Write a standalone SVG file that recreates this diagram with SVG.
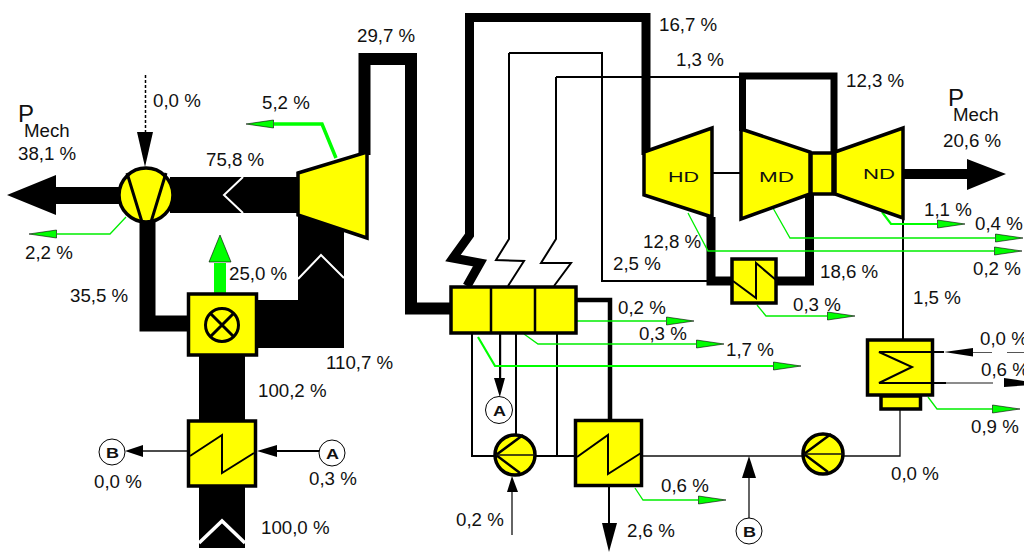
<svg xmlns="http://www.w3.org/2000/svg" width="1024" height="552" viewBox="0 0 1024 552">
<style>
text{font-family:"Liberation Sans",Arial,sans-serif;font-size:18.7px;fill:#111}
.p{font-size:24px}
.eq{font-size:15px;font-weight:normal}
.ab{font-size:15px;font-weight:bold}
.n{fill:#ffff00;stroke:#000;stroke-width:3.5}
.pipe{fill:none;stroke:#000;stroke-linejoin:miter;stroke-linecap:butt}
.w{fill:none;stroke:#000;stroke-width:2}
.t{fill:none;stroke:#111;stroke-width:1.3}
.g{fill:none;stroke:#00ee00;stroke-width:1.3;marker-end:url(#ga)}
.gt{fill:none;stroke:#00ff00;stroke-width:2.2;marker-end:url(#ga)}
.chev{fill:none;stroke:#fff;stroke-width:2;stroke-linecap:butt}
.c{fill:#fff;stroke:#000;stroke-width:1}
.in{fill:none;stroke:#000;stroke-width:2}
.b{fill:#000}
</style>
<defs>
<marker id="ga" markerUnits="userSpaceOnUse" markerWidth="30" markerHeight="10" refX="0" refY="5" orient="auto">
<path d="M0.5 1L0.5 9L28 5Z" fill="#00ff00" stroke="#000" stroke-width="0.6"/>
</marker>
</defs>
<g id="connectors">
<path class="b" d="M298 210H344V348H256V300H298Z"/>
<path class="b" d="M170 177H298V213H170Z"/>
<path class="b" d="M199 350H245V420H199Z"/>
<path class="b" d="M199 480H245V548H199Z"/>
<path class="chev" d="M243 177L224 195L243 213"/>
<path class="chev" d="M298 279L321 255L344 278"/>
<path d="M199 543L222 521L245 543" fill="none" stroke="#fff" stroke-width="3.5"/>
<path class="b" d="M7 195L56 175V187H120V204H56V215Z"/>
<path class="pipe" stroke-width="16" d="M147.500 222V323.500H190"/>
<path class="pipe" stroke-width="12" d="M364.500 155V59H411V308.500H452"/>
<path class="pipe" stroke-width="9" d="M646 155V17.500H469.500V235L453 258L480 263L467 286"/>
<path class="w" d="M509 53V239L496 260L524 261L508 286"/>
<path class="w" d="M509 53H602V281H710"/>
<path class="w" d="M556 77V239L541 263L571 263L554 286"/>
<path class="w" d="M556 77H742"/>
<path class="pipe" stroke-width="7" d="M742.500 131V76H834V154"/>
<path class="pipe" stroke-width="9" d="M711 217V281H735"/>
<path class="pipe" stroke-width="9" d="M809.500 193V281H775"/>
<path class="w" d="M712 173H741"/>
<path class="b" d="M903 169H967V159L1006 174L967 190V179H903Z"/>
<path class="w" d="M903 218V340"/>
<path class="pipe" stroke-width="4.500" d="M577 300H610V420"/>
<path class="w" d="M472 334V456H500"/>
<path class="w" d="M516 334V440"/>
<path class="w" d="M557 334V456"/>
<path class="w" d="M534 456H575"/>
<path class="t" d="M643 456H805"/>
<path class="t" d="M844 456H900V410"/>
<path class="b" d="M499 334h2.200V378H505L499.800 397L494 378H499Z"/>
<path class="t" d="M749 518V478"/>
<path class="b" d="M749 456L756 478H742Z"/>
<path class="t" d="M512 535V492"/>
<path class="b" d="M512 476L518 492H507Z"/>
<path class="w" d="M609 487V524"/>
<path class="b" d="M602 523H617L609 552Z"/>
<path d="M145.500 75V132" stroke="#000" stroke-width="1.500" stroke-dasharray="3 2" fill="none"/>
<path class="b" d="M137 132H153L145 167Z"/>
<path class="t" d="M187 451H143"/>
<path class="b" d="M125 451L143 445V457Z"/>
<path class="w" d="M319 451H277"/>
<path class="b" d="M257 451L277 445V457Z"/>
<path d="M934 352H944" class="w"/>
<path class="b" d="M944 352L973 348V356.500Z"/>
<path d="M973 352.500H992M1007 352.500H1024" stroke="#555" stroke-width="1.200" fill="none"/>
<path d="M934 383H946" class="w"/>
<path d="M946 383H993" stroke="#666" stroke-width="1.600" fill="none"/>
<path class="b" d="M1004 378L1024 381V385.500L1004 387Z"/>
<path d="M214 293V263H226V293Z" fill="#00ff00"/>
<path d="M220 235L231 262H209Z" fill="#00ff00" stroke="#000" stroke-width="0.6"/>
<path class="g" d="M126 217L110 234H57"/>
<path class="gt" style="stroke-width:3.500" d="M336 158L322 124H274"/>
<path class="g" d="M577 321H666"/>
<path class="g" d="M524 334L538 344H696"/>
<path class="gt" d="M478 337L495 366H773"/>
<path class="g" d="M635 488L643 500H698"/>
<path class="g" d="M757 305L766 316H827"/>
<path class="g" d="M773 208L790 238H995"/>
<path class="g" d="M688 213L708 251H994"/>
<path class="gt" d="M882 212L891 224H937"/>
<path class="g" d="M928 397L937 409H992"/>
</g>
<g id="gas-compressor"><circle class="n" cx="146" cy="195" r="27"/><path class="in" style="stroke-width:3" d="M127 173L142 222M166 173L151 222"/></g>
<g id="gas-turbine"><path class="n" d="M298 173L367 152V238L298 215Z"/></g>
<g id="combustor"><rect class="n" x="188.500" y="294" width="68" height="61"/><circle cx="222" cy="325" r="16.500" fill="none" stroke="#000" stroke-width="3"/><path class="in" style="stroke-width:3" d="M210.500 313.500L233.500 336.500M233.500 313.500L210.500 336.500"/></g>
<g id="preheater"><rect class="n" x="188.500" y="421" width="67" height="65"/><path class="in" d="M190 456L222 435V473L254 453"/></g>
<g id="steam-drum"><rect class="n" x="451" y="287" width="125" height="46"/><path class="in" style="stroke-width:2.500" d="M491 287V333M535 287V333"/></g>
<g id="pump-1"><circle class="n" cx="515" cy="455" r="20"/><path class="in" style="stroke-width:2.500" d="M523 435L496 455L520 473"/><path class="t" d="M496 455H535"/></g>
<g id="feed-heater"><rect class="n" x="575.500" y="420.500" width="66" height="65"/><path class="in" d="M577 457L608 435V474L641 453"/></g>
<g id="hd-turbine"><path class="n" d="M644 152L712 128V217L644 195Z"/><text class="eq" x="668" y="182" textLength="31" lengthAdjust="spacingAndGlyphs">HD</text></g>
<g id="md-turbine"><path class="n" d="M741 129L810 152V194L741 219Z"/><text class="eq" x="759" y="182" textLength="35" lengthAdjust="spacingAndGlyphs">MD</text></g>
<g id="coupling"><rect class="n" x="811" y="153" width="22" height="41"/></g>
<g id="nd-turbine"><path class="n" d="M835 152L903 128V218L835 194Z"/><text class="eq" x="863" y="179" textLength="32" lengthAdjust="spacingAndGlyphs">ND</text></g>
<g id="reheater"><rect class="n" x="732" y="259" width="44" height="44"/><path class="in" d="M733 281L756 298V263L776 280"/></g>
<g id="condenser"><rect class="n" x="867.500" y="340" width="65" height="55"/><path class="in" d="M934 352H879L912 367L879 383H934"/><rect class="n" x="881" y="396" width="39.500" height="13"/></g>
<g id="pump-2"><circle class="n" cx="823" cy="454" r="20"/><path class="in" style="stroke-width:2.500" d="M831 434L804 454L828 472"/><path class="t" d="M804 454H843"/></g>
<g id="ref-b1"><circle class="c" cx="112" cy="452" r="13"/><text class="ab" x="106" y="458" textLength="13" lengthAdjust="spacingAndGlyphs">B</text></g>
<g id="ref-a1"><circle class="c" cx="332" cy="453" r="13"/><text class="ab" x="326" y="459" textLength="13" lengthAdjust="spacingAndGlyphs">A</text></g>
<g id="ref-a2"><circle class="c" cx="499" cy="410" r="13.500"/><text class="ab" x="493" y="416" textLength="13" lengthAdjust="spacingAndGlyphs">A</text></g>
<g id="ref-b2"><circle class="c" cx="749" cy="531" r="13"/><text class="ab" x="743" y="537" textLength="13" lengthAdjust="spacingAndGlyphs">B</text></g>
<g id="labels">
<text class="p" x="18" y="122">P</text><text x="24" y="137">Mech</text>
<text x="18" y="160">38,1 %</text>
<text x="153" y="107">0,0 %</text>
<text x="262" y="109">5,2 %</text>
<text x="206" y="166">75,8 %</text>
<text x="25" y="259">2,2 %</text>
<text x="229" y="280">25,0 %</text>
<text x="70" y="302">35,5 %</text>
<text x="326" y="369">110,7 %</text>
<text x="258" y="397">100,2 %</text>
<text x="94" y="488">0,0 %</text>
<text x="309" y="485">0,3 %</text>
<text x="261" y="534">100,0 %</text>
<text x="357" y="42">29,7 %</text>
<text x="659" y="31">16,7 %</text>
<text x="676" y="66">1,3 %</text>
<text x="846" y="87">12,3 %</text>
<text class="p" x="948" y="106">P</text><text x="953" y="121">Mech</text>
<text x="943" y="147">20,6 %</text>
<text x="924" y="216">1,1 %</text>
<text x="975" y="230">0,4 %</text>
<text x="973" y="275">0,2 %</text>
<text x="643" y="248">12,8 %</text>
<text x="613" y="270">2,5 %</text>
<text x="820" y="278">18,6 %</text>
<text x="913" y="304">1,5 %</text>
<text x="793" y="311">0,3 %</text>
<text x="618" y="314">0,2 %</text>
<text x="639" y="340">0,3 %</text>
<text x="726" y="356">1,7 %</text>
<text x="980" y="345">0,0 %</text>
<text x="981" y="376">0,6 %</text>
<text x="971" y="433">0,9 %</text>
<text x="891" y="480">0,0 %</text>
<text x="661" y="492">0,6 %</text>
<text x="456" y="526">0,2 %</text>
<text x="627" y="537">2,6 %</text>
</g>
</svg>
